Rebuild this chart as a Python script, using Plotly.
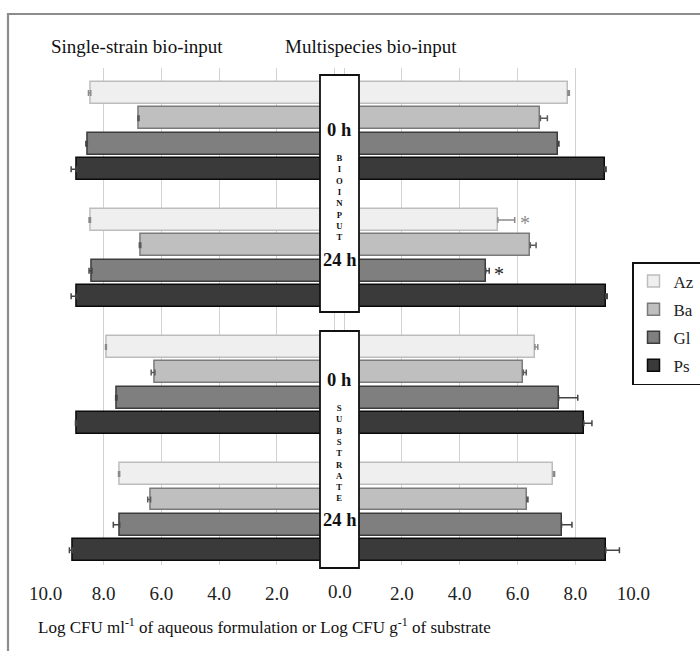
import plotly.graph_objects as go

# ---------------- data ----------------
groups = ["Bioinput 0 h", "Bioinput 24 h", "Substrate 0 h", "Substrate 24 h"]
strains = ["Az", "Ba", "Gl", "Ps"]

# Single-strain bio-input (left panel)
single_Az = [8.44, 8.45, 7.90, 7.44]
single_Ba = [6.77, 6.71, 6.22, 6.37]
single_Gl = [8.56, 8.40, 7.53, 7.44]
single_Ps = [8.92, 8.92, 8.92, 9.08]
single_Az_err = [0.08, 0.05, 0.03, 0.04]
single_Ba_err = [0.04, 0.05, 0.13, 0.10]
single_Gl_err = [0.05, 0.10, 0.05, 0.22]
single_Ps_err = [0.20, 0.20, 0.05, 0.10]

# Multispecies bio-input (right panel)
multi_Az = [7.74, 5.32, 6.60, 7.24]
multi_Ba = [6.79, 6.44, 6.20, 6.32]
multi_Gl = [7.38, 4.90, 7.42, 7.52]
multi_Ps = [9.01, 9.05, 8.29, 9.05]
multi_Az_err = [0.05, 0.58, 0.10, 0.04]
multi_Ba_err = [0.24, 0.20, 0.10, 0.04]
multi_Gl_err = [0.05, 0.12, 0.66, 0.36]
multi_Ps_err = [0.05, 0.05, 0.28, 0.47]

# significance marks (strain, group index, colour)
sig_marks = [("Az", 1, "#8c8c8c"), ("Gl", 1, "#222222")]

left_ticks = [10, 8, 6, 4, 2, 0]
left_ticktext = ["10.0", "8.0", "6.0", "4.0", "2.0", ""]
right_ticks = [0, 2, 4, 6, 8, 10]
right_ticktext = ["", "2.0", "4.0", "6.0", "8.0", "10.0"]

single = {"Az": (single_Az, single_Az_err), "Ba": (single_Ba, single_Ba_err),
          "Gl": (single_Gl, single_Gl_err), "Ps": (single_Ps, single_Ps_err)}
multi = {"Az": (multi_Az, multi_Az_err), "Ba": (multi_Ba, multi_Ba_err),
         "Gl": (multi_Gl, multi_Gl_err), "Ps": (multi_Ps, multi_Ps_err)}

# ---------------- styles ----------------
FONT = "Liberation Serif"
fill = {"Az": "#efefef", "Ba": "#bfbfbf", "Gl": "#7f7f7f", "Ps": "#3a3a3a"}
edge = {"Az": "#bdbdbd", "Ba": "#7a7a7a", "Gl": "#3c3c3c", "Ps": "#0a0a0a"}
errc = {"Az": "#8a8a8a", "Ba": "#5a5a5a", "Gl": "#444444", "Ps": "#444444"}

W, H = 700, 651


def slot(g, i):
    return g * 5 + i


fig = go.Figure()
for i, s in enumerate(strains):
    ys = [slot(g, i) for g in range(len(groups))]
    v, e = single[s]
    fig.add_trace(go.Bar(
        x=v, y=ys, orientation="h", xaxis="x", yaxis="y", width=0.86,
        marker=dict(color=fill[s], line=dict(color=edge[s], width=1.5)),
        error_x=dict(type="data", array=e, arrayminus=[0] * len(e), symmetric=False,
                     color=errc[s], thickness=1.5, width=3),
        name=s, showlegend=False, legendgroup=s))
    v, e = multi[s]
    fig.add_trace(go.Bar(
        x=v, y=ys, orientation="h", xaxis="x2", yaxis="y", width=0.86,
        marker=dict(color=fill[s], line=dict(color=edge[s], width=1.5)),
        error_x=dict(type="data", array=e, arrayminus=[0] * len(e), symmetric=False,
                     color=errc[s], thickness=1.5, width=3),
        name=s, showlegend=True, legendgroup=s))

# significance asterisks
for s, g, col in sig_marks:
    i = strains.index(s)
    v, e = multi[s]
    fig.add_annotation(x=v[g] + e[g] + 0.35, y=slot(g, i), xref="x2", yref="y",
                       text="*", showarrow=False, yshift=-3,
                       font=dict(family=FONT, size=20, color=col))


def px_x(p):
    return p / W


def px_y(p):
    return 1 - p / H


grid = "#d2d2d2"
axis_common = dict(showgrid=True, gridcolor=grid, gridwidth=1.4, zeroline=True,
                   zerolinecolor=grid, zerolinewidth=1.4, showline=False,
                   ticks="outside", ticklen=11, tickcolor="rgba(0,0,0,0)",
                   tickfont=dict(family=FONT, size=19, color="#222"))

fig.update_layout(
    width=W, height=H, margin=dict(l=0, r=0, t=0, b=0, autoexpand=False),
    paper_bgcolor="white", plot_bgcolor="rgba(0,0,0,0)",
    bargap=0, barmode="overlay",
    xaxis=dict(domain=[px_x(45.7), px_x(334.7)], range=[10, 0], anchor="y",
               tickvals=left_ticks, ticktext=left_ticktext, **axis_common),
    xaxis2=dict(domain=[px_x(344), px_x(633.3)], range=[0, 10], anchor="y",
                tickvals=right_ticks, ticktext=right_ticktext, **axis_common),
    yaxis=dict(domain=[px_y(565), px_y(68)], range=[18.58, -0.98],
               showticklabels=False, showgrid=False, zeroline=False, anchor="x"),
    legend=dict(x=px_x(632), xanchor="left", y=px_y(262), yanchor="top",
                bordercolor="#111", borderwidth=1.5, bgcolor="white",
                font=dict(family=FONT, size=17, color="#222"),
                traceorder="grouped", tracegroupgap=3, itemclick=False),
    showlegend=True,
)

shapes = []
# outer frame
shapes.append(dict(type="rect", xref="paper", yref="paper",
                   x0=px_x(8), x1=1.1, y0=-0.1, y1=px_y(14),
                   line=dict(color="#8c8c8c", width=2.2), fillcolor="rgba(0,0,0,0)",
                   layer="above"))
# central boxes
for top, bot in [(75, 312), (331, 568)]:
    shapes.append(dict(type="rect", xref="paper", yref="paper",
                       x0=px_x(320), x1=px_x(359), y0=px_y(bot), y1=px_y(top),
                       line=dict(color="#111", width=1.8), fillcolor="white",
                       layer="above"))
fig.update_layout(shapes=shapes)

cx = px_x(339.5)
for txt, xx in [("Single-strain bio-input", 137), ("Multispecies bio-input", 371)]:
    fig.add_annotation(xref="paper", yref="paper", x=px_x(xx), y=px_y(47), text=txt,
                       showarrow=False, xanchor="center", yanchor="middle",
                       font=dict(family=FONT, size=19, color="#111"))

for txt, yy in [("0 h", 130), ("24 h", 260), ("0 h", 380), ("24 h", 520)]:
    fig.add_annotation(xref="paper", yref="paper", x=cx, y=px_y(yy), text="<b>" + txt + "</b>",
                       showarrow=False, xanchor="center", yanchor="middle",
                       font=dict(family=FONT, size=18.5, color="#111"))

for word, yy in [("BIOINPUT", 197.5), ("SUBSTRATE", 452.5)]:
    fig.add_annotation(xref="paper", yref="paper", x=cx, y=px_y(yy),
                       text="<b>" + "<br>".join(word) + "</b>",
                       showarrow=False, xanchor="center", yanchor="middle",
                       font=dict(family=FONT, size=8.7, color="#111"))

fig.add_annotation(xref="paper", yref="paper", x=cx, y=px_y(591), text="0.0",
                   showarrow=False, xanchor="center", yanchor="middle",
                   font=dict(family=FONT, size=19, color="#222"))
fig.add_annotation(xref="paper", yref="paper", x=px_x(264), y=px_y(626),
                   text="Log CFU ml<sup>-1</sup> of aqueous formulation or Log CFU g<sup>-1</sup> of substrate",
                   showarrow=False, xanchor="center", yanchor="middle",
                   font=dict(family=FONT, size=17, color="#111"))

fig.write_html("out.html", config={"displayModeBar": False},
               post_script="document.body.style.margin='0';")
